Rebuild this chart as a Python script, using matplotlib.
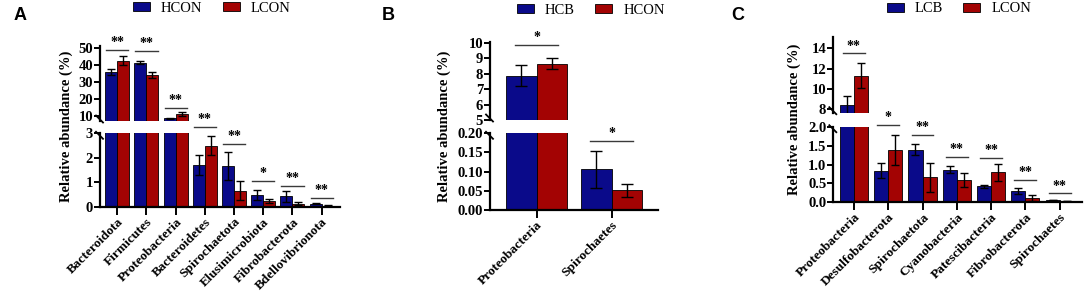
import matplotlib
matplotlib.use('Agg')
import matplotlib.pyplot as plt
from matplotlib.lines import Line2D
import numpy as np

W, H, DPI = 1084, 295, 100

# ---------------- data ----------------
# Panel A
a_cats = ['Bacteroidota', 'Firmicutes', 'Proteobacteria', 'Bacteroidetes',
          'Spirochaetota', 'Elusimicrobiota', 'Fibrobacterota', 'Bdellovibrionota']
a_series = ['HCON', 'LCON']
a_v1 = [35.6, 41.2, 8.6, 1.70, 1.66, 0.48, 0.42, 0.12]
a_e1 = [1.7, 1.0, 0.4, 0.42, 0.58, 0.22, 0.21, 0.03]
a_v2 = [42.3, 34.0, 11.2, 2.50, 0.65, 0.22, 0.12, 0.04]
a_e2 = [2.6, 1.9, 1.4, 0.37, 0.38, 0.08, 0.06, 0.01]
a_sig = ['**', '**', '**', '**', '**', '*', '**', '**']
a_sig_y = [48.8, 48.2, 14.7, 3.26, 2.56, 1.07, 0.86, 0.37]
a_sig_top = [True, True, True, False, False, False, False, False]
a_top_ticks = [10, 20, 30, 40, 50]
a_low_ticks = [0, 1, 2, 3]

# Panel B
b_cats = ['Proteobacteria', 'Spirochaetes']
b_series = ['HCB', 'HCON']
b_v1 = [7.85, 0.106]
b_e1 = [0.68, 0.049]
b_v2 = [8.65, 0.051]
b_e2 = [0.35, 0.018]
b_sig = ['*', '*']
b_sig_y = [9.85, 0.18]
b_sig_top = [True, False]
b_top_ticks = [5, 6, 7, 8, 9, 10]
b_low_ticks = [0.00, 0.05, 0.10, 0.15, 0.20]

# Panel C
c_cats = ['Proteobacteria', 'Desulfobacterota', 'Spirochaetota', 'Cyanobacteria',
          'Patescibacteria', 'Fibrobacterota', 'Spirochaetes']
c_series = ['LCB', 'LCON']
c_v1 = [8.4, 0.83, 1.39, 0.865, 0.42, 0.31, 0.06]
c_e1 = [0.94, 0.20, 0.15, 0.10, 0.05, 0.08, 0.01]
c_v2 = [11.3, 1.38, 0.66, 0.59, 0.79, 0.12, 0.035]
c_e2 = [1.25, 0.40, 0.38, 0.18, 0.22, 0.08, 0.008]
c_sig = ['**', '*', '**', '**', '**', '**', '**']
c_sig_y = [13.5, 2.04, 1.78, 1.21, 1.17, 0.59, 0.24]
c_sig_top = [True, False, False, False, False, False, False]
c_top_ticks = [8, 10, 12, 14]
c_low_ticks = [0.0, 0.5, 1.0, 1.5, 2.0]

BLUE = '#0a0a8a'
RED = '#a30303'
SERIF = 'Liberation Serif'

fig = plt.figure(figsize=(W / DPI, H / DPI), dpi=DPI)


def fx(px):
    return px / W


def fy(py):
    return 1 - py / H


def add_ax(l, r, t, b):
    return fig.add_axes([fx(l), fy(b), fx(r) - fx(l), (b - t) / H])


def panel(cats, series, v1, e1, v2, e2, sig, sig_y, sig_top, top_ticks, low_ticks,
          xl, xr, top_px, low_px, top_lim, low_lim, xlim, top_fmt, low_fmt, cap, siglen,
          letter, letter_x, ylabel_x, leg_x, leg_y):
    x = np.arange(len(cats))
    w = 0.41
    top = add_ax(xl, xr, top_px[0], top_px[1])
    low = add_ax(xl, xr, low_px[0], low_px[1])
    for ax in (top, low):
        ax.set_xlim(*xlim)
        ax.patch.set_alpha(0)
        ax.bar(x - w / 2, v1, w, color=BLUE, edgecolor='black', linewidth=0.6,
               label=series[0], zorder=2)
        ax.bar(x + w / 2, v2, w, color=RED, edgecolor='black', linewidth=0.6,
               label=series[1], zorder=2)
        ax.errorbar(x - w / 2, v1, yerr=e1, fmt='none', ecolor='black', elinewidth=1.0,
                    capsize=cap, capthick=1.0, zorder=3)
        ax.errorbar(x + w / 2, v2, yerr=e2, fmt='none', ecolor='black', elinewidth=1.0,
                    capsize=cap, capthick=1.0, zorder=3)
        for s in ('top', 'right'):
            ax.spines[s].set_visible(False)
        ax.spines['left'].set_linewidth(1.6)
        ax.tick_params(axis='y', length=4, width=1.4, pad=1)
    top.set_ylim(*top_lim)
    low.set_ylim(*low_lim)
    top.spines['bottom'].set_visible(False)
    top.set_xticks([])
    top.set_yticks(top_ticks)
    low.set_yticks(low_ticks)
    top.set_yticklabels([top_fmt.format(t) for t in top_ticks], fontfamily=SERIF,
                        fontweight='bold', fontsize=10.5)
    low.set_yticklabels([low_fmt.format(t) for t in low_ticks], fontfamily=SERIF,
                        fontweight='bold', fontsize=10.5)
    low.spines['bottom'].set_linewidth(1.6)
    low.set_xticks(x)
    low.set_xticklabels(cats, rotation=45, ha='right', va='top', rotation_mode='anchor',
                        fontfamily=SERIF, fontweight='bold', fontsize=9.6)
    low.tick_params(axis='x', length=6, width=1.4, pad=0.5)

    # significance
    for i, (s, yv, ontop) in enumerate(zip(sig, sig_y, sig_top)):
        ax = top if ontop else low
        ax.plot([x[i] - siglen / 2, x[i] + siglen / 2], [yv, yv], color='#3a3a3a',
                lw=1.0, clip_on=False, zorder=4)
        ax.annotate(s, (x[i], yv), xytext=(0, 0.5), textcoords='offset points',
                    ha='center', va='bottom', fontfamily=SERIF, fontweight='bold',
                    fontsize=10, annotation_clip=False)

    # break marks
    for py in (top_px[1] - 2, low_px[0] + 2):
        fig.add_artist(Line2D([fx(xl - 4), fx(xl + 3)], [fy(py - 3.5), fy(py + 3.5)],
                              color='black', lw=1.3))

    # labels
    fig.text(fx(letter_x), fy(16), letter, fontfamily='Liberation Sans', fontweight='bold',
             fontsize=13, ha='left', va='center')
    fig.text(fx(ylabel_x), fy((top_px[0] + low_px[1]) / 2), 'Relative abundance (%)',
             rotation=90, ha='center', va='center', fontfamily=SERIF, fontweight='bold',
             fontsize=10.5)
    handles, labels = low.get_legend_handles_labels()
    fig.legend(handles, labels, loc='center', bbox_to_anchor=(fx(leg_x), fy(leg_y)),
               ncol=2, frameon=False, prop={'family': SERIF, 'size': 10.5},
               handlelength=1.15, handleheight=0.6, columnspacing=1.4, handletextpad=0.75,
               borderpad=0)


panel(a_cats, a_series, a_v1, a_e1, a_v2, a_e2, a_sig, a_sig_y, a_sig_top,
      a_top_ticks, a_low_ticks,
      xl=100, xr=340, top_px=(46, 121), low_px=(133.3, 206.7),
      top_lim=(7.07, 51.0), low_lim=(0, 3), xlim=(-0.59, 7.63),
      top_fmt='{:g}', low_fmt='{:g}',
      cap=2.6, siglen=0.76, letter='A', letter_x=14, ylabel_x=66, leg_x=212, leg_y=8.5)

panel(b_cats, b_series, b_v1, b_e1, b_v2, b_e2, b_sig, b_sig_y, b_sig_top,
      b_top_ticks, b_low_ticks,
      xl=490, xr=658, top_px=(41.7, 120), low_px=(133.3, 210),
      top_lim=(5, 10.065), low_lim=(0, 0.2), xlim=(-0.62, 1.62),
      top_fmt='{:g}', low_fmt='{:.2f}',
      cap=4.2, siglen=0.58, letter='B', letter_x=382, ylabel_x=444, leg_x=591, leg_y=10)

panel(c_cats, c_series, c_v1, c_e1, c_v2, c_e2, c_sig, c_sig_y, c_sig_top,
      c_top_ticks, c_low_ticks,
      xl=833.3, xr=1081.7, top_px=(36.7, 112.7), low_px=(126.7, 202.3),
      top_lim=(7.67, 15.14), low_lim=(0, 2), xlim=(-0.6, 6.64),
      top_fmt='{:g}', low_fmt='{:.1f}',
      cap=2.6, siglen=0.64, letter='C', letter_x=731, ylabel_x=794, leg_x=959, leg_y=9)

fig.savefig('out.png', dpi=DPI)
